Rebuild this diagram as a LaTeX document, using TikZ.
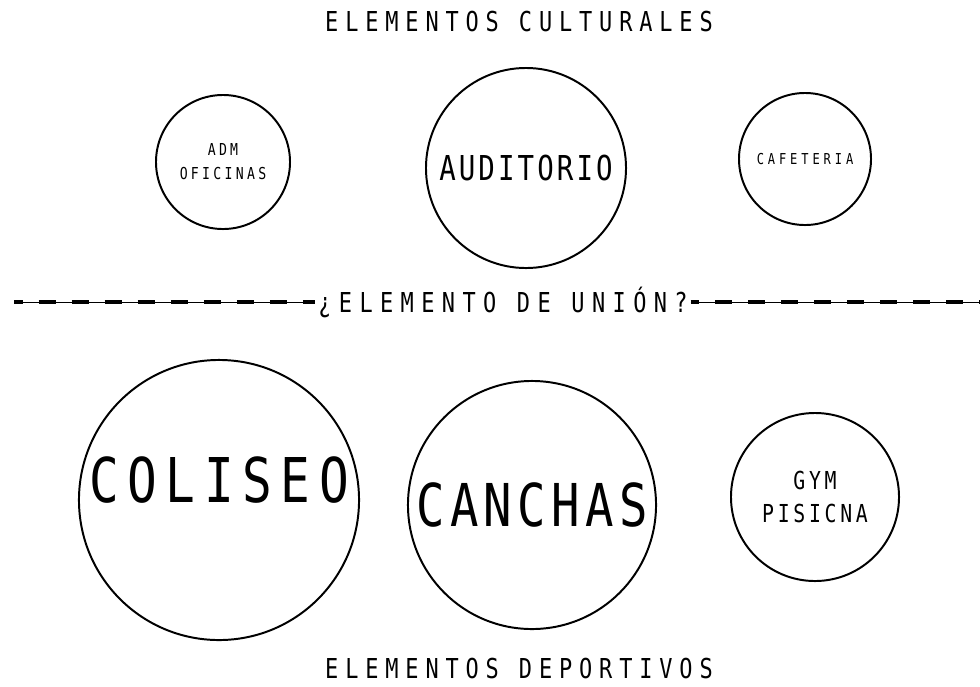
\documentclass[tikz,border=0pt]{standalone}
\usepackage{fontspec}
\setmainfont{DejaVu Sans Mono}[FakeStretch=0.8]
\usepackage{tikz}

\begin{document}
\begin{tikzpicture}[x=0.025cm, y=-0.025cm,
  every node/.style={align=center, inner sep=0pt, outer sep=0pt},
  sala/.style={circle, draw, line width=1.4pt, minimum size=#1},
  letra/.style n args={3}{font={\fontsize{#1}{#2}\selectfont\addfontfeatures{LetterSpace=#3}}},
  guia/.style={line width=0.7pt},
  guiones/.style={line width=2.8pt, dash pattern=on 12.1pt off 11.4pt, dash phase=6pt}]
\useasboundingbox (0,0) rectangle (980,686);

\node[letra={19.5}{24}{25}] (cultural) at (519,22) {ELEMENTOS CULTURALES};
\node[letra={19.5}{24}{25}] (deportivo) at (519,669) {ELEMENTOS DEPORTIVOS};

\node[sala=3.35cm, letra={11.7}{17}{20}] (adm) at (223,162) {ADM\\OFICINAS};
\node[sala=5cm, letra={24.4}{30}{9}] (auditorio) at (526,168) {AUDITORIO};
\node[sala=3.3cm, letra={10.7}{13}{26}] (cafeteria) at (805,159) {CAFETERIA};

\node[letra={19.5}{24}{27}, inner xsep=2pt] (union) at (503,302) {¿ELEMENTO DE UNIÓN?};
\coordinate (izq) at (14,302);
\coordinate (der) at (980,302);

\node[sala=7cm, letra={43.9}{54}{14}, text depth=1cm] (coliseo) at (219,500) {COLISEO};
\node[sala=6.2cm, letra={42}{52}{9}] (canchas) at (532,505) {CANCHAS};
\node[sala=4.2cm, letra={17.6}{23.5}{15}] (gym) at (815,497) {GYM\\PISICNA};

\draw[guia] (izq) -- (union.west);
\draw[guiones] (izq) -- (union.west);
\draw[guia] (union.east) -- (der);
\draw[guiones] (union.east) -- (der);
\end{tikzpicture}
\end{document}
